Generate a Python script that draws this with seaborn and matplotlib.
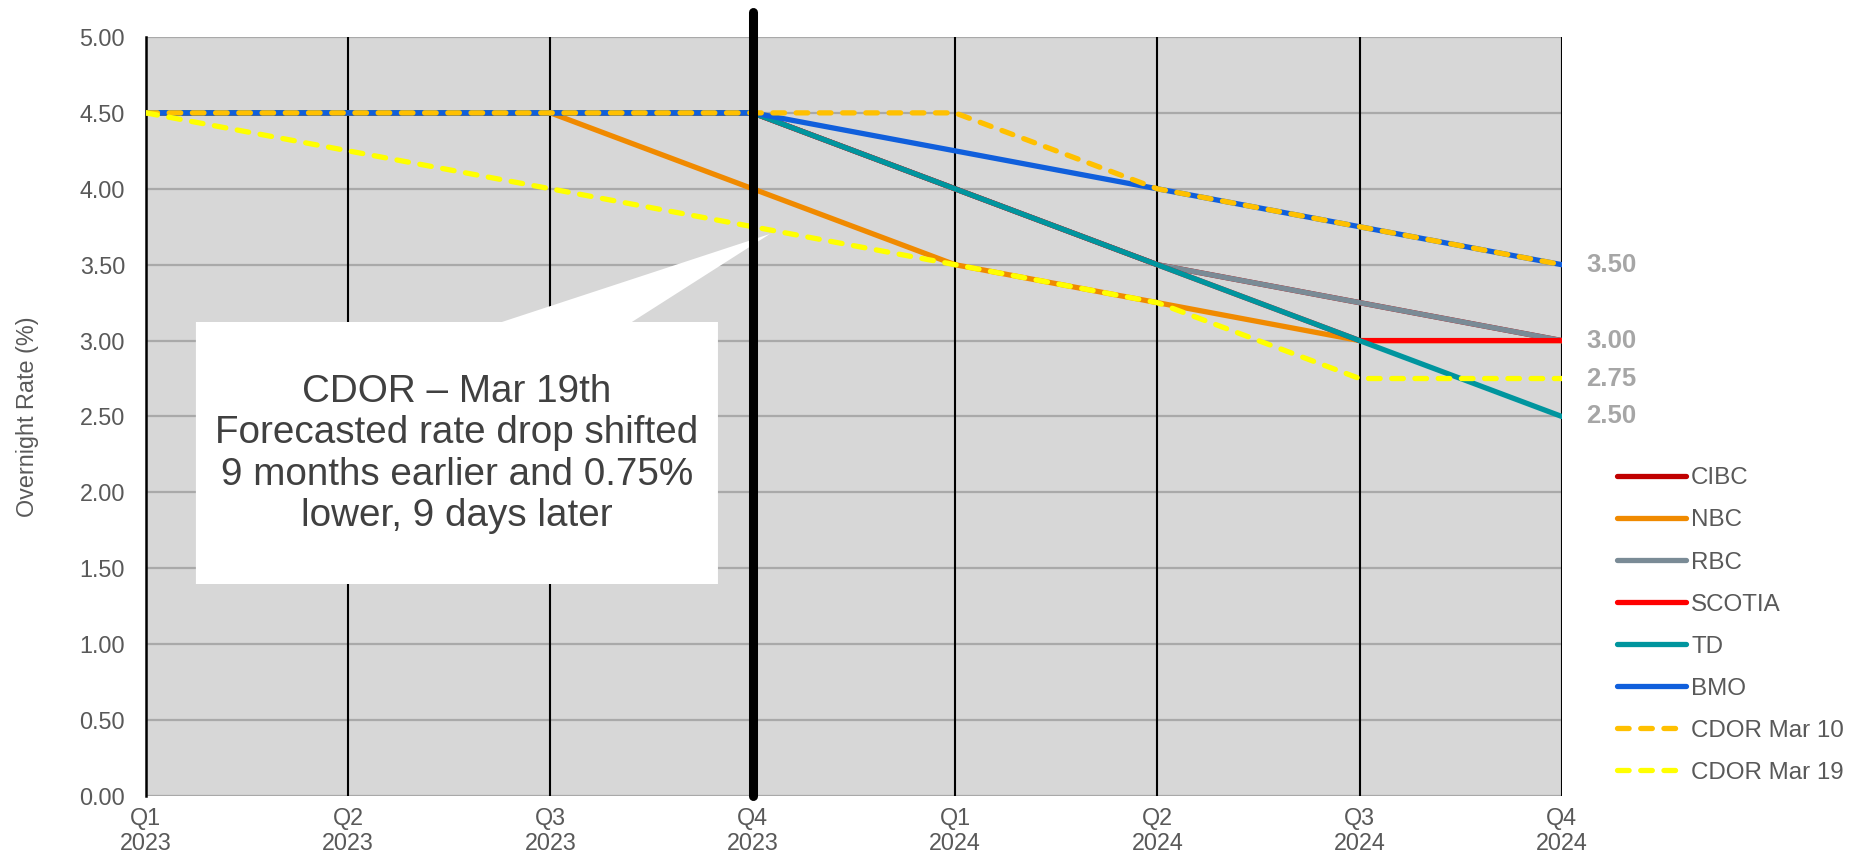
import pandas as pd
import matplotlib.pyplot as plt
from matplotlib.patches import Polygon
import seaborn as sns

# -------------------------------
# Data
# -------------------------------
quarters = ["Q1\n2023", "Q2\n2023", "Q3\n2023", "Q4\n2023",
            "Q1\n2024", "Q2\n2024", "Q3\n2024", "Q4\n2024"]
cibc = [4.50, 4.50, 4.50, 4.50, 4.00, 3.50, 3.25, 3.00]
nbc = [4.50, 4.50, 4.50, 4.00, 3.50, 3.25, 3.00, 3.00]
rbc = [4.50, 4.50, 4.50, 4.50, 4.00, 3.50, 3.25, 3.00]
scotia = [4.50, 4.50, 4.50, 4.50, 4.00, 3.50, 3.00, 3.00]
td = [4.50, 4.50, 4.50, 4.50, 4.00, 3.50, 3.00, 2.50]
bmo = [4.50, 4.50, 4.50, 4.50, 4.25, 4.00, 3.75, 3.50]
cdor_mar10 = [4.50, 4.50, 4.50, 4.50, 4.50, 4.00, 3.75, 3.50]
cdor_mar19 = [4.50, 4.25, 4.00, 3.75, 3.50, 3.25, 2.75, 2.75]
end_labels = [3.50, 3.00, 2.75, 2.50]
yticks = [0.0, 0.5, 1.0, 1.5, 2.0, 2.5, 3.0, 3.5, 4.0, 4.5, 5.0]

names = ["CIBC", "NBC", "RBC", "SCOTIA", "TD", "BMO", "CDOR Mar 10", "CDOR Mar 19"]
values = [cibc, nbc, rbc, scotia, td, bmo, cdor_mar10, cdor_mar19]
colors = ["#C00000", "#F08A00", "#7A8B96", "#FF0000", "#00959E", "#105FDC", "#FFC000", "#FFFF00"]
dashed = [False, False, False, False, False, False, True, True]

callout = ("CDOR \u2013 Mar 19th\nForecasted rate drop shifted\n"
           "9 months earlier and 0.75%\nlower, 9 days later")

rows = []
for name, vals in zip(names, values):
    for i, v in enumerate(vals):
        rows.append({"bank": name, "pos": i, "rate": v})
df = pd.DataFrame(rows)

# -------------------------------
# Style
# -------------------------------
sns.set_theme(style="white")
plt.rcParams['font.family'] = ['Liberation Sans', 'DejaVu Sans']
text_col = "#595959"

fig = plt.figure(figsize=(18.66, 8.64), dpi=100)
ax = fig.add_axes([0.0782, 0.0787, 0.7588, 0.8785])
ax.set_facecolor("#D7D7D7")

for name, col, dsh in zip(names, colors, dashed):
    sub = df[df["bank"] == name]
    kw = dict(solid_capstyle="round", dash_capstyle="round")
    if dsh:
        kw["linestyle"] = (0, (2.2, 2.2))
    sns.lineplot(data=sub, x="pos", y="rate", ax=ax, color=col, lw=3.8,
                 label=name, zorder=3, **kw)

# gridlines
for y in yticks:
    ax.axhline(y, color="#A9A9A9", lw=1.6, zorder=1)
for i in range(len(quarters)):
    ax.axvline(i, color="black", lw=1.5, zorder=1.5)

# thick marker line at Q4 2023
ax.axvline(3, ymin=0, ymax=1.033, color="black", lw=6.5, zorder=6, clip_on=False)

ax.set_xlim(0, len(quarters) - 1)
ax.set_ylim(0, 5)
ax.set_xticks(range(len(quarters)))
ax.set_xticklabels(quarters, fontsize=16.8, color=text_col, linespacing=1.12)
ax.set_yticks(yticks)
ax.set_yticklabels([f"{v:.2f}" for v in yticks], fontsize=16.8, color=text_col)
ax.tick_params(axis="y", length=0, pad=15)
ax.tick_params(axis="x", length=0, pad=8)
ax.set_xlabel("")
ax.set_ylabel("Overnight Rate (%)", fontsize=16.8, color=text_col, labelpad=29)

for s in ["top", "right", "bottom"]:
    ax.spines[s].set_visible(False)
ax.spines["left"].set_color("black")
ax.spines["left"].set_linewidth(1.8)

# end-of-line value labels
for v in end_labels:
    ax.text(7.12, v, f"{v:.2f}", fontsize=18.5, fontweight="bold", color="#A6A6A6",
            ha="left", va="center", clip_on=False)

# callout box with pointer
poly = Polygon([(0.0353, 0.2793), (0.0353, 0.6245), (0.2514, 0.6245), (0.4407, 0.7405),
                (0.3432, 0.6245), (0.4040, 0.6245), (0.4040, 0.2793)],
               closed=True, transform=ax.transAxes, facecolor="white",
               edgecolor="none", zorder=5)
ax.add_patch(poly)
ax.text(0.2197, 0.4506, callout, transform=ax.transAxes, ha="center", va="center",
        fontsize=27.8, color="#404040", linespacing=1.2, zorder=7)

# legend
handles, labels = ax.get_legend_handles_labels()
ax.legend(handles, labels, loc="upper left", bbox_to_anchor=(0.8603, 0.473),
          bbox_transform=fig.transFigure, frameon=False, fontsize=17.4,
          labelcolor=text_col, handlelength=2.85, handletextpad=0.2,
          labelspacing=0.83, borderpad=0)

fig.savefig("out.png", dpi=100)
